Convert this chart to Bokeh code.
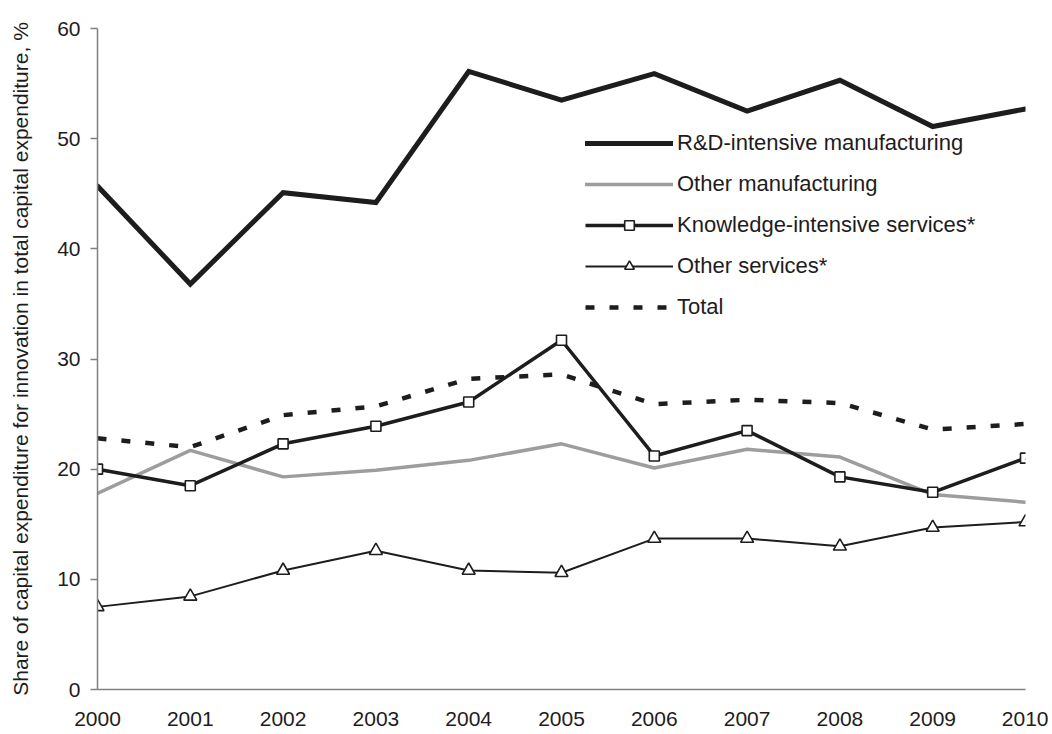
from bokeh.plotting import figure
from bokeh.models import Legend, LegendItem, Range1d, FixedTicker
from bokeh.embed import file_html
from bokeh.resources import INLINE

years = [2000, 2001, 2002, 2003, 2004, 2005, 2006, 2007, 2008, 2009, 2010]
rd_manuf = [45.7, 36.8, 45.1, 44.2, 56.1, 53.5, 55.9, 52.5, 55.3, 51.1, 52.7]
other_manuf = [17.8, 21.7, 19.3, 19.9, 20.8, 22.3, 20.1, 21.8, 21.1, 17.7, 17.0]
kis = [20.0, 18.5, 22.3, 23.9, 26.1, 31.7, 21.2, 23.5, 19.3, 17.9, 21.0]
other_serv = [7.5, 8.45, 10.8, 12.6, 10.8, 10.6, 13.7, 13.7, 13.0, 14.7, 15.2]
total = [22.8, 22.0, 24.9, 25.7, 28.2, 28.6, 25.9, 26.3, 26.0, 23.6, 24.1]
y_ticks = [0, 10, 20, 30, 40, 50, 60]
labels = ["R&D-intensive manufacturing", "Other manufacturing",
          "Knowledge-intensive services*", "Other services*", "Total"]
y_title = "Share of capital expenditure for innovation in total capital expenditure, %"

FONT = "Liberation Sans"
INK = "#1e1c1d"

p = figure(width=1048, height=730, min_border_left=97, min_border_right=23,
           min_border_top=28, min_border_bottom=41,
           output_backend="svg", toolbar_location=None,
           x_range=Range1d(2000, 2010), y_range=Range1d(0, 60))
p.outline_line_color = None
p.grid.visible = False
p.background_fill_color = "white"

r1 = p.line(years, rd_manuf, line_color=INK, line_width=5, line_join="miter", line_cap="round")
r2 = p.line(years, other_manuf, line_color="#9d9d9d", line_width=3.5, line_cap="round")
r3 = p.line(years, kis, line_color=INK, line_width=3.5)
r3m = p.scatter(years, kis, marker="square", size=10, fill_color="white",
                line_color=INK, line_width=1.6)
r4 = p.line(years, other_serv, line_color=INK, line_width=2)
r4m = p.scatter(years, other_serv, marker="triangle", size=13, fill_color="white",
                line_color=INK, line_width=1.6)
r5 = p.line(years, total, line_color=INK, line_width=4.5, line_dash="9 15", line_cap="butt")

legend = Legend(items=[
    LegendItem(label=labels[0], renderers=[r1]),
    LegendItem(label=labels[1], renderers=[r2]),
    LegendItem(label=labels[2], renderers=[r3, r3m]),
    LegendItem(label=labels[3], renderers=[r4, r4m]),
    LegendItem(label=labels[4], renderers=[r5]),
], location=(488, 369), padding=0, margin=0, border_line_color=None,
    background_fill_alpha=0, glyph_width=88, glyph_height=24, label_height=24,
    spacing=15, label_standoff=4, label_text_font=FONT, label_text_font_size="22px",
    label_text_color=INK)
p.add_layout(legend, "center")

p.xaxis.ticker = FixedTicker(ticks=years)
p.yaxis.ticker = FixedTicker(ticks=y_ticks)
for ax in (p.xaxis, p.yaxis):
    ax.axis_line_color = "#808080"
    ax.axis_line_width = 1.5
    ax.major_label_text_font = FONT
    ax.major_label_text_color = INK
    ax.minor_tick_line_color = None
p.xaxis.major_label_text_font_size = "21px"
p.yaxis.major_label_text_font_size = "21px"
p.xaxis.major_tick_line_color = None
p.xaxis.major_label_standoff = 16
p.yaxis.major_tick_line_color = "#808080"
p.yaxis.major_tick_line_width = 1.5
p.yaxis.major_tick_out = 7
p.yaxis.major_tick_in = 0
p.yaxis.major_label_standoff = 10
p.yaxis.axis_label = y_title
p.yaxis.axis_label_text_font = FONT
p.yaxis.axis_label_text_font_size = "21px"
p.yaxis.axis_label_text_font_style = "normal"
p.yaxis.axis_label_text_color = INK
p.yaxis.axis_label_standoff = 22

open("out.html", "w").write(file_html(p, INLINE))
